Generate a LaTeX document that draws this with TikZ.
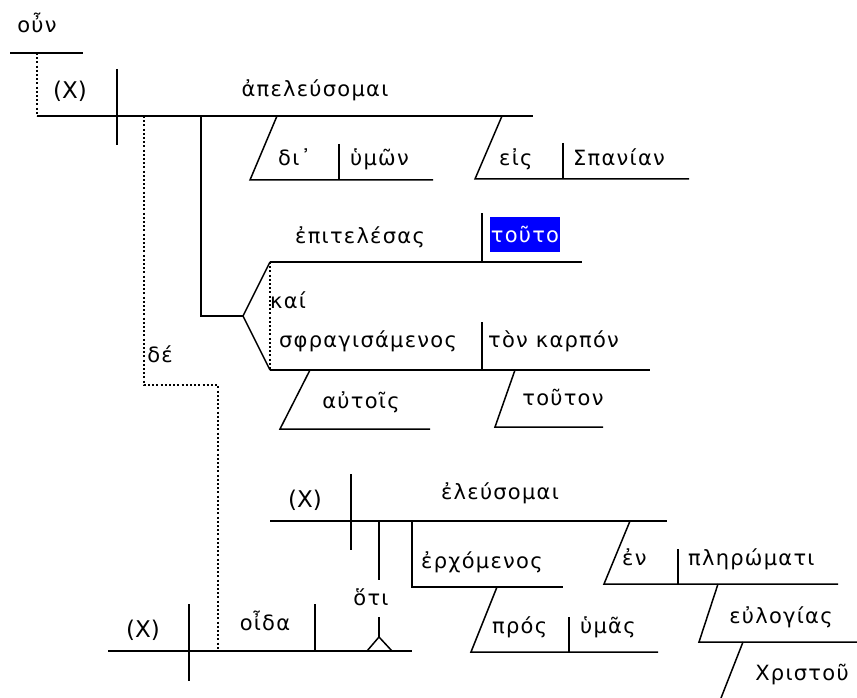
\documentclass[tikz,border=0pt]{standalone}
\usepackage{fontspec}
\setmainfont{DejaVu Sans}
\newfontfamily\grk[LetterSpace=6]{DejaVu Sans}
\newfontfamily\lat{DejaVu Sans}
\definecolor{hlblue}{RGB}{0,0,255}
\begin{document}
\begin{tikzpicture}[x=1pt,y=-1pt,
  rule/.style={line width=1.5pt},
  dots/.style={line width=1.5pt,dash pattern=on 2pt off 2.2pt},
  word/.style={anchor=base,inner sep=0pt,font=\grk\fontsize{21}{24}\selectfont},
  after/.style={word,anchor=base west},
  latin/.style={anchor=base,inner sep=0pt,font=\lat\fontsize{23}{26}\selectfont}]
\useasboundingbox (0,0) rectangle (857,698);

% main clause
\coordinate (m0) at (37,116);
\coordinate (m1) at (533,116);
\draw[rule] (m0) -- (m1);
\draw[rule] (117,69) -- (117,145);
\node[latin] (subj) at (70,99) {(X)};
\node[word] (verb) at (315,97) {ἀπελεύσομαι};

% conjunction
\node[word] (oun) at (37,33) {οὖν};
\coordinate (o0) at (10,53);
\coordinate (o1) at (83,53);
\draw[rule] (o0) -- (o1);
\draw[dots] (37,53) -- (m0);

% prepositional phrases
\coordinate (d0) at (277,116);
\coordinate (d1) at (250,180);
\coordinate (d2) at (433,180);
\draw[rule] (d0) -- (d1) -- (d2);
\draw[rule] (339,144) -- (339,180);
\node[after] (dia) at (278,165) {δι᾽};
\node[after] (hymon) at (350,165) {ὑμῶν};
\coordinate (e0) at (502,116);
\coordinate (e1) at (475,179);
\coordinate (e2) at (689,179);
\draw[rule] (e0) -- (e1) -- (e2);
\draw[rule] (563,143) -- (563,179);
\node[after] (eis) at (499,165) {εἰς};
\node[after] (span) at (573,165) {Σπανίαν};

% participles
\coordinate (f0) at (243,316);
\coordinate (u0) at (270,262);
\coordinate (l0) at (270,370);
\draw[rule] (201,116) -- (201,316) -- (f0);
\draw[rule] (u0) -- (f0) -- (l0);
\draw[dots] (u0) -- (l0);
\draw[rule] (u0) -- (582,262);
\draw[rule] (482,213) -- (482,262);
\node[word] (epit) at (360,243) {ἐπιτελέσας};
\node[inner sep=0pt,fill=hlblue,minimum width=70pt,minimum height=35pt,
  text=white,font=\grk\fontsize{21}{24}\selectfont] (touto) at (525,234.5) {τοῦτο};
\node[after] (kai) at (270,308) {καί};
\draw[rule] (l0) -- (650,370);
\draw[rule] (482,322) -- (482,370);
\node[word] (sphr) at (368,347) {σφραγισάμενος};
\node[after] (karp) at (488,347) {τὸν καρπόν};
\draw[rule] (310,370) -- (280,429) -- (430,429);
\node[word] (autois) at (361,408) {αὐτοῖς};
\draw[rule] (515,370) -- (495,427) -- (603,427);
\node[word] (touton) at (563,405) {τοῦτον};

% second clause
\draw[dots] (144,116) -- (144,385) -- (218,385) -- (218,651);
\node[word] (de) at (160,362) {δέ};
\coordinate (b0) at (108,651);
\coordinate (b1) at (412,651);
\draw[rule] (b0) -- (b1);
\draw[rule] (189,604) -- (189,681);
\draw[rule] (315,604) -- (315,651);
\node[latin] (subj2) at (143,637) {(X)};
\node[word] (oida) at (265,630) {οἶδα};

% object clause on pedestal
\coordinate (pt) at (379,637);
\draw[rule] (379,521) -- (379,580);
\draw[rule] (379,617) -- (pt);
\draw[rule] (367,651) -- (pt) -- (392,651);
\node[word] (hoti) at (371,605) {ὅτι};
\draw[rule] (270,521) -- (667,521);
\draw[rule] (351,474) -- (351,550);
\node[latin] (subj3) at (305,507) {(X)};
\node[word] (eleus) at (500,499) {ἐλεύσομαι};
\draw[rule] (412,521) -- (412,587) -- (563,587);
\node[after] (erch) at (421,568) {ἐρχόμενος};
\draw[rule] (497,587) -- (471,652) -- (658,652);
\draw[rule] (569,617) -- (569,652);
\node[after] (pros) at (492,633) {πρός};
\node[after] (hymas) at (580,633) {ὑμᾶς};
\draw[rule] (630,521) -- (604,584) -- (838,584);
\draw[rule] (678,549) -- (678,584);
\node[after] (en) at (622,565) {ἐν};
\node[after] (pler) at (688,565) {πληρώματι};
\draw[rule] (718,584) -- (699,642) -- (857,642);
\node[word] (eulog) at (781,623) {εὐλογίας};
\draw[rule] (743,642) -- (721,698);
\node[word] (chr) at (802,680) {Χριστοῦ};
\end{tikzpicture}
\end{document}
